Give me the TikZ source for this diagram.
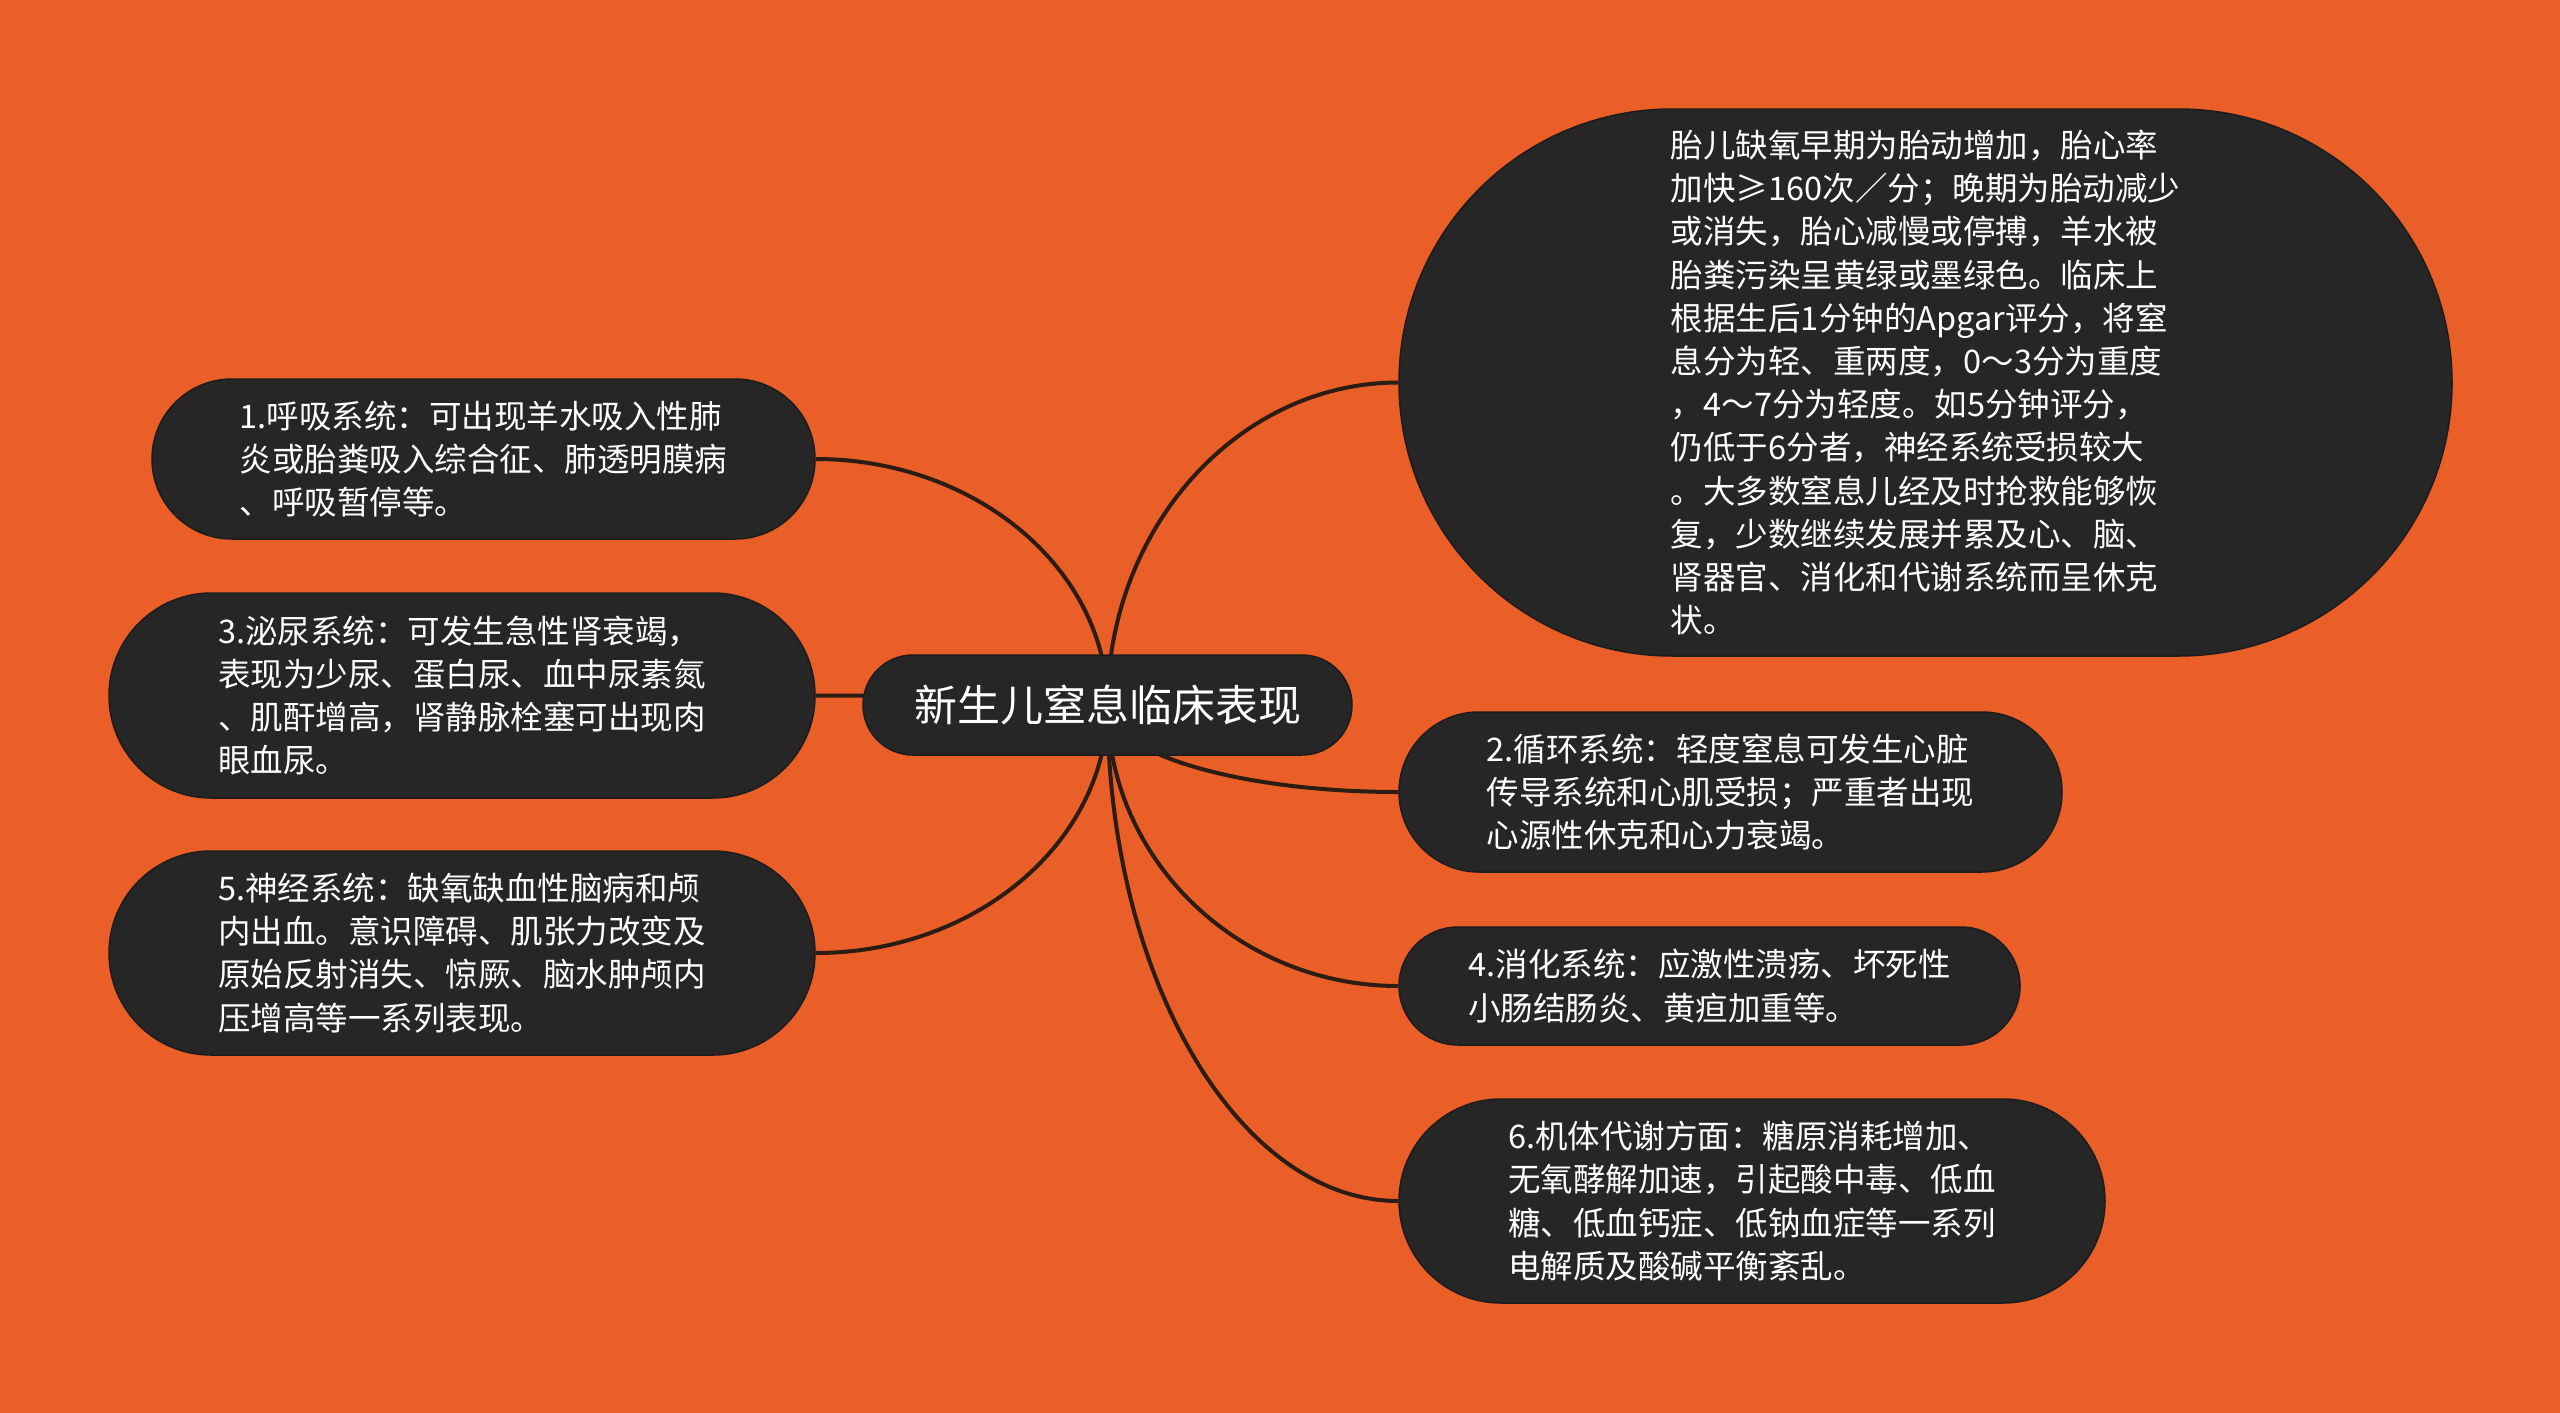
\documentclass[tikz,border=0pt]{standalone}
\usepackage{fontspec}
\setmainfont{Noto Sans CJK SC}
\usetikzlibrary{calc}
\definecolor{bgorange}{HTML}{EA5E28}
\definecolor{pillgray}{HTML}{262626}
\definecolor{pilledge}{HTML}{1C1C1C}
\definecolor{linkdark}{HTML}{2B1C14}
\pgfdeclarelayer{back}
\pgfsetlayers{back,main}
\tikzset{
	pill/.style 2 args={rectangle, fill=pillgray, draw=pilledge, line width=1.5pt, text=white,
		align=left, inner sep=0pt, minimum width=#1, minimum height=#2, rounded corners=0.5*#2,
		font=\fontsize{32.5}{43.2}\selectfont},
	branch/.style={draw=linkdark, line width=4pt},
}
% curve leaves the root vertically and meets the topic horizontally
\newcommand{\branchTo}[2]{
	\draw[branch] (#1) .. controls ($(#1)!0.55!(#1 |- #2)$) and ($(#2)!0.55!(#1 |- #2)$) .. (#2);
}

\begin{document}
\begin{tikzpicture}[x=1pt, y=-1pt]

	\useasboundingbox (0,0) rectangle (2560,1413);
	\begin{pgfonlayer}{back}
		\fill[bgorange] (0,0) rectangle (2560,1413);
	\end{pgfonlayer}

	% centre
	\node[pill={489pt}{100pt}, font=\fontsize{43}{50}\selectfont] (root) at (1107.5,705) {新生儿窒息临床表现};

	% right column
	\node[pill={1053pt}{547pt}] (fetal) at (1925.5,382.5) {胎儿缺氧早期为胎动增加，胎心率\\加快≥160次／分；晚期为胎动减少\\或消失，胎心减慢或停搏，羊水被\\胎粪污染呈黄绿或墨绿色。临床上\\根据生后1分钟的Apgar评分，将窒\\息分为轻、重两度，0～3分为重度\\，4～7分为轻度。如5分钟评分，\\仍低于6分者，神经系统受损较大\\。大多数窒息儿经及时抢救能够恢\\复，少数继续发展并累及心、脑、\\肾器官、消化和代谢系统而呈休克\\状。};
	\node[pill={663pt}{160pt}] (circ) at (1730.5,792) {2.循环系统：轻度窒息可发生心脏\\传导系统和心肌受损；严重者出现\\心源性休克和心力衰竭。};
	\node[pill={621pt}{118pt}] (digest) at (1709.5,986) {4.消化系统：应激性溃疡、坏死性\\小肠结肠炎、黄疸加重等。};
	\node[pill={706pt}{204pt}] (metab) at (1752,1201) {6.机体代谢方面：糖原消耗增加、\\无氧酵解加速，引起酸中毒、低血\\糖、低血钙症、低钠血症等一系列\\电解质及酸碱平衡紊乱。};

	% left column
	\node[pill={663pt}{160pt}] (resp) at (483.5,459) {1.呼吸系统：可出现羊水吸入性肺\\炎或胎粪吸入综合征、肺透明膜病\\、呼吸暂停等。};
	\node[pill={706pt}{205pt}] (urin) at (462,695.5) {3.泌尿系统：可发生急性肾衰竭，\\表现为少尿、蛋白尿、血中尿素氮\\、肌酐增高，肾静脉栓塞可出现肉\\眼血尿。};
	\node[pill={706pt}{204pt}] (neuro) at (462,953) {5.神经系统：缺氧缺血性脑病和颅\\内出血。意识障碍、肌张力改变及\\原始反射消失、惊厥、脑水肿颅内\\压增高等一系列表现。};

	\begin{pgfonlayer}{back}
		\branchTo{root.center}{fetal.west}
		\branchTo{root.center}{circ.west}
		\branchTo{root.center}{digest.west}
		\branchTo{root.center}{metab.west}
		\branchTo{root.center}{resp.east}
		\branchTo{root.center}{urin.east}
		\branchTo{root.center}{neuro.east}
	\end{pgfonlayer}

\end{tikzpicture}
\end{document}
